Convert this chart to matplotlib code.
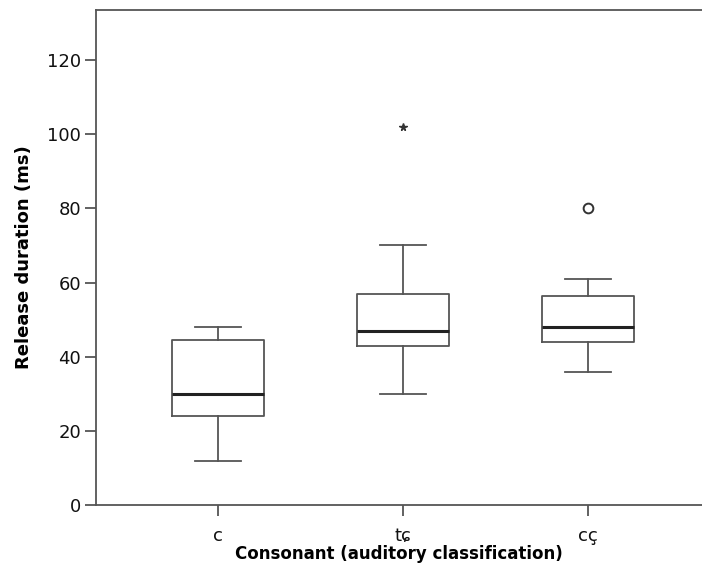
import matplotlib
matplotlib.use('Agg')
import matplotlib.pyplot as plt

# values (ms)
categories = ["c", "tɕ", "cç"]
whislo = [12, 30, 36]
q1 = [24, 43, 44]
med = [30, 47, 48]
q3 = [44.5, 57, 56.5]
whishi = [48, 70, 61]
outliers_circle = [[], [], [80]]
outliers_star = [[], [102], []]

plt.rcParams['font.family'] = ['DejaVu Sans']

fig = plt.figure(figsize=(7.02, 5.76), dpi=100)
ax = fig.add_axes([0.137, 0.123, 0.863, 0.860])

stats = []
for i in range(len(categories)):
    stats.append(dict(whislo=whislo[i], q1=q1[i], med=med[i], q3=q3[i],
                      whishi=whishi[i], fliers=outliers_circle[i], label=categories[i]))

line_col = "#555555"
ax.bxp(stats, positions=[1, 2, 3], widths=0.5, showfliers=True,
       boxprops=dict(color=line_col, lw=1.3),
       whiskerprops=dict(color=line_col, lw=1.3),
       capprops=dict(color=line_col, lw=1.3),
       medianprops=dict(color="#222222", lw=2.2),
       flierprops=dict(marker="o", markerfacecolor="white", markeredgecolor="#333333",
                       markersize=7, markeredgewidth=1.4))

for i, vals in enumerate(outliers_star):
    if vals:
        ax.plot([i + 1] * len(vals), vals, linestyle="none", marker="*",
                color="#333333", markersize=5.5)

ax.set_xlim(0.34, 3.616)
ax.set_ylim(0, 133.5)
ax.set_yticks(range(0, 121, 20))
ax.set_xticks([1, 2, 3])
ax.set_xticklabels(categories)

for s in ["left", "bottom", "top"]:
    ax.spines[s].set_color(line_col)
    ax.spines[s].set_linewidth(1.3)
ax.spines["right"].set_visible(False)

ax.tick_params(axis="both", direction="out", length=8, width=1.3, color=line_col,
               labelsize=13, labelcolor="#111111")
ax.tick_params(axis="y", pad=3)
ax.tick_params(axis="x", pad=8)

ax.set_ylabel("Release duration (ms)", fontsize=13, fontweight="bold", labelpad=10)
ax.set_xlabel("Consonant (auditory classification)", fontsize=12, fontweight="bold", labelpad=0)

plt.savefig("out.png", dpi=100)
plt.close()
